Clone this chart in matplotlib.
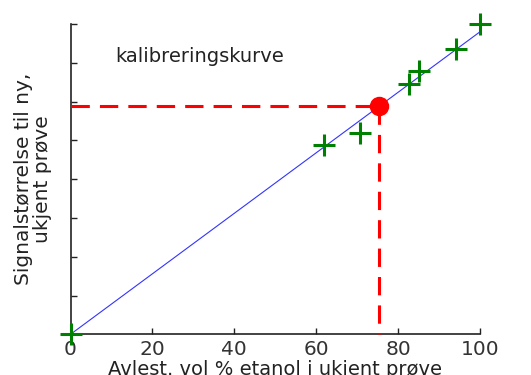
#!/usr/bin/env python3
"""
Kalibreringskurve: signal vs. vol % etanol, with reading of unknown sample.
"""
import matplotlib
matplotlib.use('Agg')
import matplotlib.pyplot as plt
import numpy as np

plt.rcParams['font.family'] = ['DejaVu Sans']

# calibration standards (vol % etanol, signal)
std_conc = [0.0, 61.9, 70.7, 82.7, 85.2, 94.1, 100.0]
std_signal = [0.0, 4.88, 5.18, 6.45, 6.80, 7.35, 8.0]

# fitted line through origin
fit_x = [0.0, 100.0]
fit_slope = 0.078

# unknown sample
unknown_conc = 75.4
unknown_signal = 5.89

x_ticks = [0, 20, 40, 60, 80, 100]
y_ticks = [0, 1, 2, 3, 4, 5, 6, 7, 8]

fig = plt.figure(figsize=(5.31, 3.75), dpi=100)
ax = fig.add_axes([0.1328, 0.1085, 0.904 - 0.1328, 0.936 - 0.1085])

fit_y = [fit_slope * x for x in fit_x]
ax.plot(fit_x, fit_y, color='#3333ff', lw=0.8, zorder=2)

# dashed reading lines
ax.plot([0, unknown_conc], [unknown_signal, unknown_signal], color='#ff0000',
        lw=2.2, dashes=(6, 3.3), zorder=3, clip_on=False)
ax.plot([unknown_conc, unknown_conc], [unknown_signal, 0], color='#ff0000',
        lw=2.2, dashes=(6, 3.3), zorder=3, clip_on=False)

ax.plot(std_conc, std_signal, linestyle='none', marker='+', markersize=16,
        mew=2.2, color='#008000', zorder=4, clip_on=False)
ax.plot([unknown_conc], [unknown_signal], marker='o', markersize=13,
        color='#ff0000', mec='#ff0000', zorder=5, clip_on=False)

ax.text(10.9, 7.02, 'kalibreringskurve', fontsize=14, ha='left',
        va='baseline', color='#222222')

ax.set_xlim(0, 100)
ax.set_ylim(0, 8)
ax.set_xticks(x_ticks)
ax.set_yticks(y_ticks)
ax.set_yticklabels([])
ax.tick_params(direction='in', length=4, width=1, labelsize=14.5, pad=4,
               colors='#222222')
ax.tick_params(axis='x', labelcolor='#333333')

for side in ['top', 'right']:
    ax.spines[side].set_visible(False)
for side in ['left', 'bottom']:
    ax.spines[side].set_color('#222222')
    ax.spines[side].set_linewidth(1.2)

ax.set_xlabel('Avlest. vol % etanol i ukjent prøve', fontsize=14,
              labelpad=1, color='#222222')
ax.set_ylabel('Signalstørrelse til ny,\nukjent prøve', fontsize=14.5,
              labelpad=9, color='#222222', linespacing=1.0)

fig.savefig('out.png', dpi=100)
